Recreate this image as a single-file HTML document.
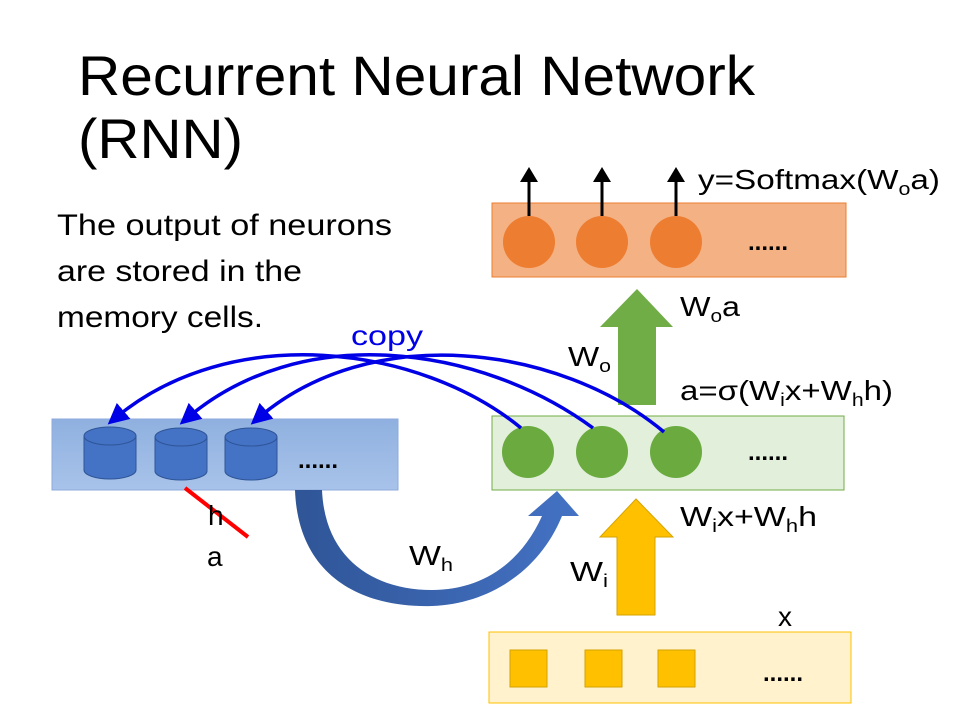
<!DOCTYPE html>
<html><head><meta charset="utf-8"><style>
html,body{margin:0;padding:0;background:#fff;}
svg{display:block;}
text{font-family:"Liberation Sans",sans-serif;fill:#000;}
</style></head><body>
<svg width="960" height="720" viewBox="0 0 960 720" xmlns="http://www.w3.org/2000/svg">
<defs>
<marker id="bh" markerWidth="6" markerHeight="6" refX="4" refY="3" orient="auto" markerUnits="strokeWidth"><path d="M0,0 L6,3 L0,6 z" fill="#0000e6"/></marker>
<marker id="kh" markerWidth="5" markerHeight="6" refX="2" refY="3" orient="auto" markerUnits="strokeWidth"><path d="M0,0 L5,3 L0,6 z" fill="#000"/></marker>
<linearGradient id="bb" x1="0" y1="0" x2="0" y2="1"><stop offset="0" stop-color="#8fb0df"/><stop offset="1" stop-color="#a8c3ea"/></linearGradient>
<linearGradient id="ca" x1="0" y1="0" x2="1" y2="0"><stop offset="0" stop-color="#2f5597"/><stop offset="1" stop-color="#4472c4"/></linearGradient>
</defs>

<text x="78" y="95" font-size="56" textLength="677" lengthAdjust="spacingAndGlyphs">Recurrent Neural Network</text>
<text x="78" y="158" font-size="56" textLength="165" lengthAdjust="spacingAndGlyphs">(RNN)</text>

<text x="57" y="235" font-size="30" textLength="335" lengthAdjust="spacingAndGlyphs">The output of neurons</text>
<text x="57" y="281" font-size="30" textLength="245" lengthAdjust="spacingAndGlyphs">are stored in the</text>
<text x="57" y="327" font-size="30" textLength="206" lengthAdjust="spacingAndGlyphs">memory cells.</text>

<!-- orange box -->
<rect x="492" y="203" width="354" height="74" fill="#f4b183" stroke="#ed7d31" stroke-width="1"/>
<circle cx="529" cy="242" r="26" fill="#ed7d31"/>
<circle cx="602" cy="242" r="26" fill="#ed7d31"/>
<circle cx="676" cy="242" r="26" fill="#ed7d31"/>
<text x="748" y="250" font-size="24" font-weight="bold">......</text>
<line x1="529" y1="216" x2="529" y2="176" stroke="#000" stroke-width="3" marker-end="url(#kh)"/>
<line x1="602" y1="216" x2="602" y2="176" stroke="#000" stroke-width="3" marker-end="url(#kh)"/>
<line x1="676" y1="216" x2="676" y2="176" stroke="#000" stroke-width="3" marker-end="url(#kh)"/>
<text x="698" y="189" font-size="28" textLength="242" lengthAdjust="spacingAndGlyphs">y=Softmax(W<tspan font-size="18" dy="6">o</tspan><tspan dy="-6">a)</tspan></text>

<!-- green arrow -->
<path d="M618,405 L618,327 L600,327 L637,289 L673,327 L656,327 L656,405 z" fill="#70ad47"/>
<text x="680" y="316" font-size="28" textLength="60" lengthAdjust="spacingAndGlyphs">W<tspan font-size="18" dy="6">o</tspan><tspan dy="-6">a</tspan></text>
<text x="568" y="366" font-size="28" textLength="43" lengthAdjust="spacingAndGlyphs">W<tspan font-size="18" dy="6">o</tspan></text>
<text x="680" y="400" font-size="28" textLength="213" lengthAdjust="spacingAndGlyphs">a=σ(W<tspan font-size="18" dy="6">i</tspan><tspan dy="-6">x+W</tspan><tspan font-size="18" dy="6">h</tspan><tspan dy="-6">h)</tspan></text>

<!-- green box -->
<rect x="492" y="416" width="352" height="74" fill="#e2efda" stroke="#70ad47" stroke-width="1"/>
<circle cx="528" cy="452" r="26" fill="#6aaa3f"/>
<circle cx="602" cy="452" r="26" fill="#6aaa3f"/>
<circle cx="676" cy="452" r="26" fill="#6aaa3f"/>
<text x="748" y="460" font-size="24" font-weight="bold">......</text>

<!-- blue box -->
<rect x="52" y="419" width="346" height="71" fill="url(#bb)" stroke="#8faadc" stroke-width="1"/>
<g fill="#4472c4" stroke="#2f5597" stroke-width="1">
<path d="M84,436 L84,470 A26,9 0 0 0 136,470 L136,436 z"/><ellipse cx="110" cy="436" rx="26" ry="9"/>
<path d="M155,437 L155,471 A26,9 0 0 0 207,471 L207,437 z"/><ellipse cx="181" cy="437" rx="26" ry="9"/>
<path d="M225,437 L225,471 A26,9 0 0 0 277,471 L277,437 z"/><ellipse cx="251" cy="437" rx="26" ry="9"/>
</g>
<text x="298" y="468" font-size="24" font-weight="bold">......</text>

<!-- copy arrows -->
<g fill="none" stroke="#0000e6" stroke-width="3.5">
<path d="M521,428 C420,345 230,320 113,420" marker-end="url(#bh)"/>
<path d="M593,428 C480,345 300,320 185,420" marker-end="url(#bh)"/>
<path d="M664,432 C560,345 370,320 256,420" marker-end="url(#bh)"/>
</g>
<text x="351" y="345" font-size="28" style="fill:#0000e6" textLength="72" lengthAdjust="spacingAndGlyphs">copy</text>

<!-- red cross -->
<line x1="185" y1="488" x2="248" y2="537" stroke="#ff0000" stroke-width="4"/>
<text x="208" y="525" font-size="28">h</text>
<text x="207" y="566" font-size="28">a</text>

<!-- curved W_h arrow -->
<path d="M295,490 C298,575 360,608 432,606 C490,604 540,570 562,516 L579,516 L557,491 L528,516 L542,516 C520,565 480,590 432,590 C375,590 325,560 322,490 z" fill="url(#ca)"/>
<text x="409" y="565" font-size="28" textLength="44" lengthAdjust="spacingAndGlyphs">W<tspan font-size="18" dy="6">h</tspan></text>

<!-- yellow arrow -->
<path d="M617,615 L617,537 L600,537 L636,499 L673,537 L655,537 L655,615 z" fill="#ffc000" stroke="#d6a300" stroke-width="1"/>
<text x="570" y="581" font-size="28" textLength="38" lengthAdjust="spacingAndGlyphs">W<tspan font-size="18" dy="6">i</tspan></text>
<text x="680" y="526" font-size="28" textLength="137" lengthAdjust="spacingAndGlyphs">W<tspan font-size="18" dy="6">i</tspan><tspan dy="-6">x+W</tspan><tspan font-size="18" dy="6">h</tspan><tspan dy="-6">h</tspan></text>
<text x="778" y="626" font-size="28">x</text>

<!-- yellow box -->
<rect x="489" y="632" width="362" height="71" fill="#fff2cc" stroke="#ffc000" stroke-width="1"/>
<rect x="510" y="650" width="37" height="37" fill="#ffc000" stroke="#d6a300"/>
<rect x="585" y="650" width="37" height="37" fill="#ffc000" stroke="#d6a300"/>
<rect x="658" y="650" width="37" height="37" fill="#ffc000" stroke="#d6a300"/>
<text x="763" y="681" font-size="24" font-weight="bold">......</text>
</svg>
</body></html>
